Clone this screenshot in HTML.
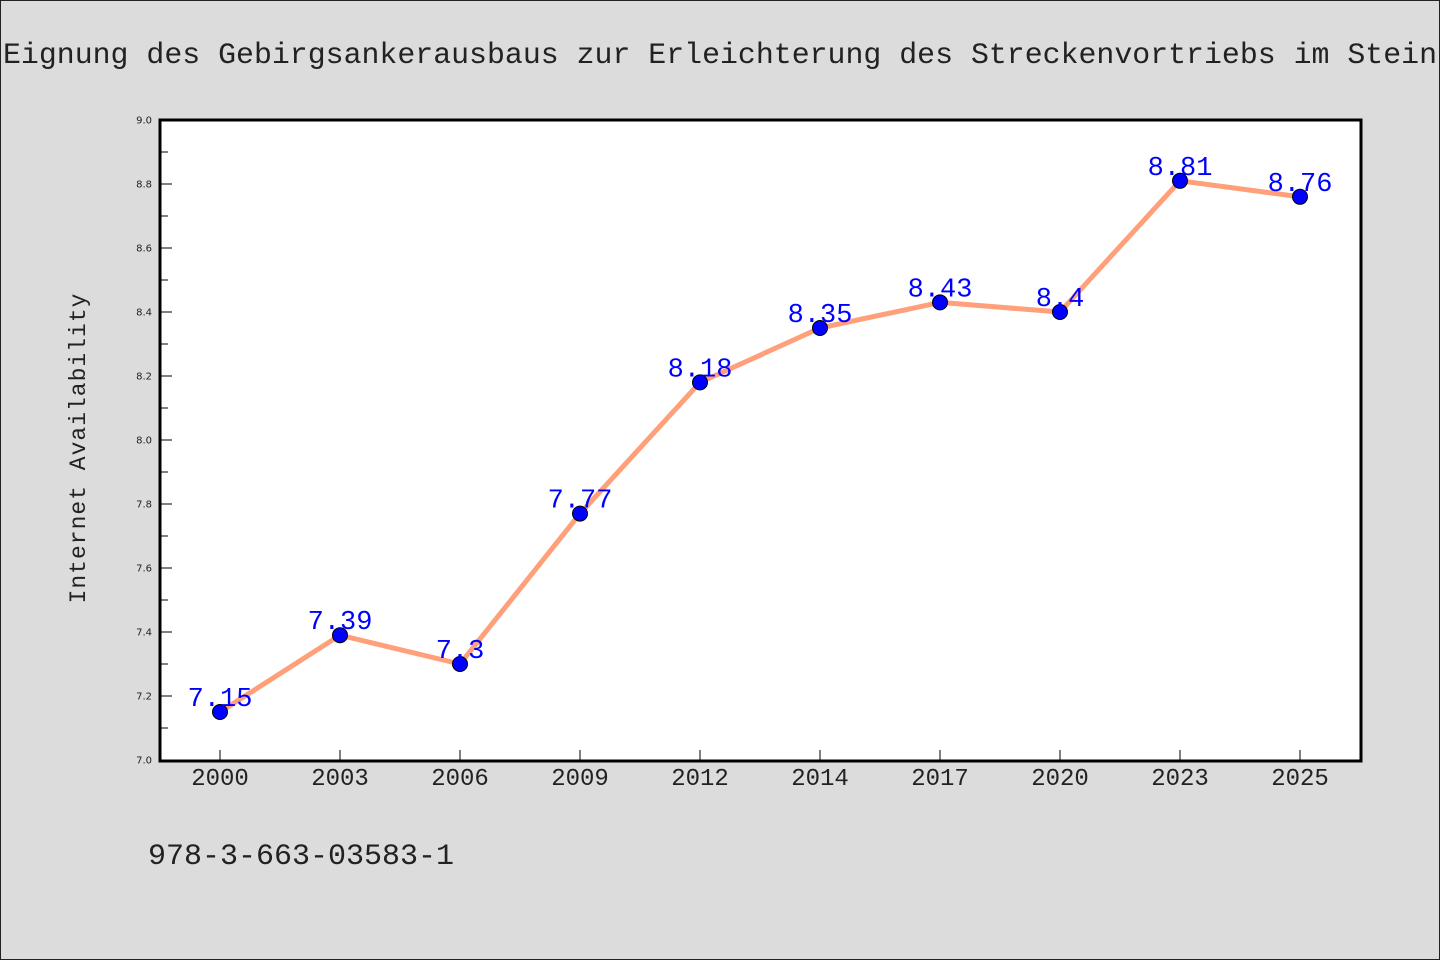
<!DOCTYPE html>
<html><head><meta charset="utf-8"><style>
body{margin:0;background:#dcdcdc;}
svg{display:block;font-family:"WenQuanYi Zen Hei","Liberation Mono",monospace;}
</style></head><body>
<svg id="chart" width="1440" height="960" xmlns="http://www.w3.org/2000/svg">
<rect x="0.5" y="0.5" width="1439" height="959" fill="#dcdcdc" stroke="#222"/>
<text x="3" y="63" font-size="30" fill="#222" textLength="1434" lengthAdjust="spacingAndGlyphs">Eignung des Gebirgsankerausbaus zur Erleichterung des Streckenvortriebs im Stein</text>
<rect x="160" y="120" width="1201" height="641" fill="#fff"/>
<g id="yaxis"></g>
<g id="xaxis"></g>
<text transform="translate(85,448) rotate(-90)" text-anchor="middle" font-size="23" fill="#222" letter-spacing="1">Internet Availability</text>
<g id="series"></g>
<rect x="160" y="120" width="1201" height="641" fill="none" stroke="#000" stroke-width="3"/>
<text x="148" y="864" font-size="30" fill="#222">978-3-663-03583-1</text>
</svg>
<script>
const categories=["2000","2003","2006","2009","2012","2014","2017","2020","2023","2025"];
const values=[7.15,7.39,7.3,7.77,8.18,8.35,8.43,8.4,8.81,8.76];
const yTicks=["7.0","7.2","7.4","7.6","7.8","8.0","8.2","8.4","8.6","8.8","9.0"];
const NS="http://www.w3.org/2000/svg";
const yMin=7,yMax=9,plotTop=120,plotBottom=760;
function yS(v){return plotBottom-(v-yMin)/(yMax-yMin)*(plotBottom-plotTop);}
function xS(i){return 220+i*120;}
function mk(t,a,p){const e=document.createElementNS(NS,t);for(const k in a)e.setAttribute(k,a[k]);p.appendChild(e);return e;}
const ya=document.getElementById('yaxis'),xa=document.getElementById('xaxis'),sg=document.getElementById('series');
yTicks.forEach(t=>{const v=parseFloat(t),y=yS(v);
 const l=mk('line',{x1:160,x2:172,y1:y,y2:y,stroke:'#000','stroke-width':1},ya);
 
 
 const tx=mk('text',{x:152,y:y+3.5,'text-anchor':'end','font-size':10,fill:'#222','font-family':'DejaVu Sans, sans-serif'},ya);
 tx.textContent=t;
 
 
 if(v<yMax){const ym=yS(v+0.1);const m=mk('line',{x1:160,x2:168,y1:ym,y2:ym,stroke:'#000','stroke-width':1},ya);
 
 }
});
categories.forEach((c,i)=>{const x=xS(i);
 const l=mk('line',{x1:x,x2:x,y1:760,y2:750,stroke:'#000','stroke-width':1},xa);
 
 
 const t=mk('text',{x:x,y:785,'text-anchor':'middle','font-size':24,fill:'#222'},xa);
 t.textContent=c;
 
 
});
const pl=mk('polyline',{points:values.map((v,i)=>xS(i)+','+yS(v)).join(' '),fill:'none',stroke:'#ffa07a','stroke-width':5,'stroke-linejoin':'round'},sg);


values.forEach((v,i)=>{
 const c=mk('circle',{cx:xS(i),cy:yS(v),r:7.5,fill:'#0000ff',stroke:'#000','stroke-width':1},sg);
 
 
});
values.forEach((v,i)=>{
 const t=mk('text',{x:xS(i),y:yS(v)-6,'text-anchor':'middle','font-size':27,fill:'#0000ff'},sg);
 t.textContent=String(v);
 
 
});
</script>
</body></html>
